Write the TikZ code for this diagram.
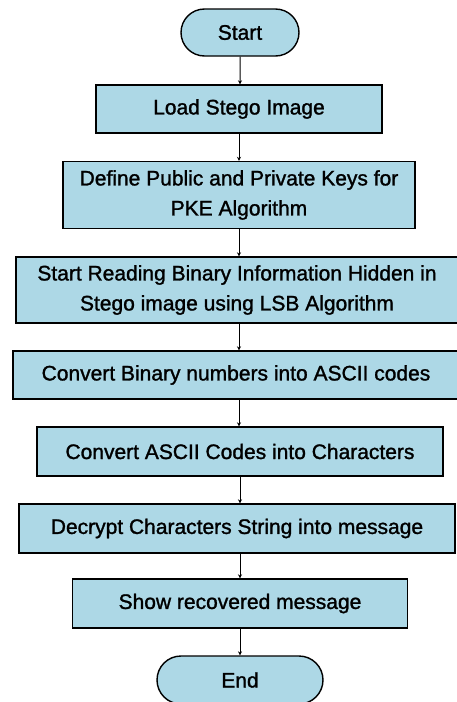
\documentclass[tikz,border=0pt]{standalone}
\usepackage{fontspec}
\setmainfont[FakeBold=1.3]{Liberation Sans}
\usetikzlibrary{shapes.misc,arrows.meta}
\definecolor{boxfill}{RGB}{173,216,230}
\tikzset{
  x=1pt,y=-1pt,
  base/.style={draw=black,line width=1.4pt,fill=boxfill,font=\fontsize{21}{30}\selectfont,align=center,inner sep=0pt},
  procbox/.style={base,rectangle},
  termbox/.style={base,rounded rectangle},
  conn/.style={line width=1pt,-{Stealth[length=4pt,width=4pt]}}
}
\begin{document}
\begin{tikzpicture}
\clip (0,0) rectangle (457,702);
\fill[white] (0,0) rectangle (457,702);
\node[termbox,minimum width=118pt,minimum height=47pt] (start) at (240,32.5) {Start};
\node[procbox,minimum width=286pt,minimum height=48pt] (load) at (239,109) {Load Stego Image};
\node[procbox,minimum width=352pt,minimum height=67pt] (def) at (239,195) {Define Public and Private Keys for\\PKE Algorithm};
\node[procbox,minimum width=442pt,minimum height=66pt] (read) at (237,290) {Start Reading Binary Information Hidden in\\Stego image using LSB Algorithm};
\node[procbox,minimum width=446pt,minimum height=48pt] (bin) at (236,375) {Convert Binary numbers into ASCII codes};
\node[procbox,minimum width=406pt,minimum height=49pt] (asc) at (240,451.5) {Convert ASCII Codes into Characters};
\node[procbox,minimum width=436pt,minimum height=49pt] (dec) at (237,528.5) {Decrypt Characters String into message};
\node[procbox,minimum width=335pt,minimum height=49pt] (show) at (240,603.5) {Show recovered message};
\node[termbox,minimum width=166pt,minimum height=48pt] (end) at (240,680) {End};
\draw[conn] (start) -- (start|-load.north);
\draw[conn] (load) -- (load|-def.north);
\draw[conn] (def) -- (def|-read.north);
\draw[conn] (def.south|-read.south) -- (def.south|-bin.north);
\draw[conn] (def.south|-bin.south) -- (def.south|-asc.north);
\draw[conn] (asc) -- (asc|-dec.north);
\draw[conn] (asc.south|-dec.south) -- (asc.south|-show.north);
\draw[conn] (show) -- (show|-end.north);
\end{tikzpicture}
\end{document}
